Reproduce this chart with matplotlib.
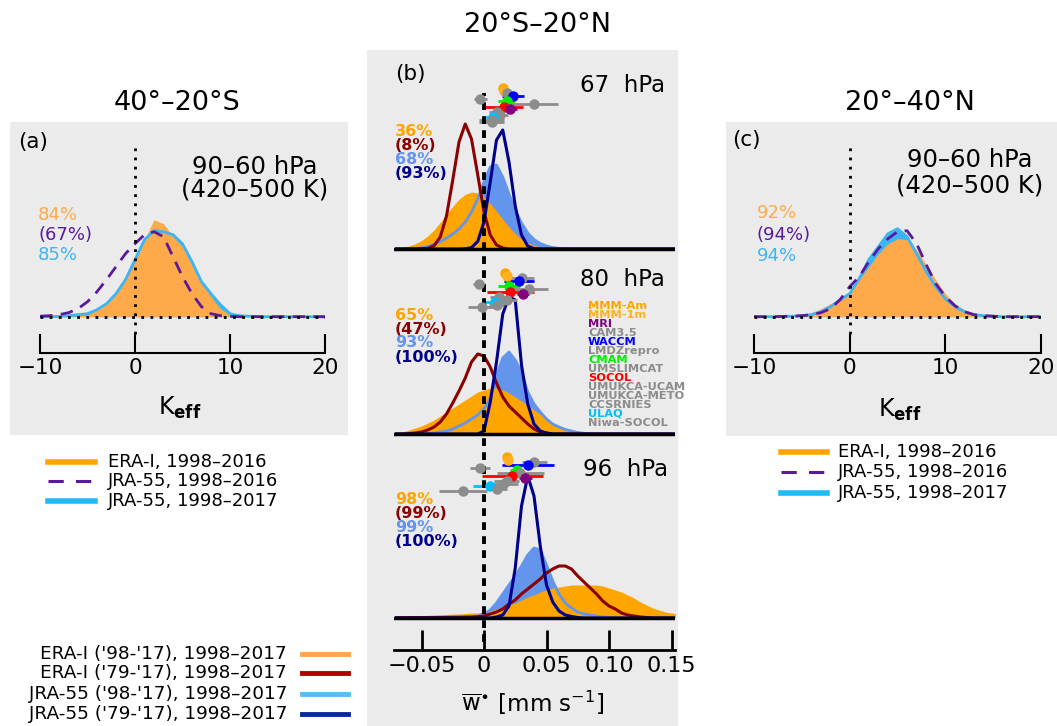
import matplotlib
matplotlib.use('Agg')
import matplotlib.pyplot as plt
import numpy as np
from matplotlib.lines import Line2D
from matplotlib.patches import Rectangle

W, H = 1057, 726
plt.rcParams['font.family'] = ['DejaVu Sans']
plt.rcParams['mathtext.fontset'] = 'dejavusans'

# ---- dados: paineis (a) e (c), Keff ----
keff = np.arange(-10, 21)

era_a = [0, 0, 0, 0.3, 1, 2, 7, 13, 23, 37, 55, 77, 97, 93, 80, 70, 52, 33, 20, 8, 2, 0.5,
         0, 0, 0, 0, 0, 0, 0, 0, 0]
jra16_a = [0.5, 1, 2, 4, 8, 15, 25, 37, 50, 63, 73, 82, 85, 80, 60, 40, 23, 10, 3, 1, 0.3,
           0, 0, 0, 0, 0, 0, 0, 0, 0, 0]
jra17_a = [0, 0, 0.3, 1, 2, 3, 7, 13, 23, 37, 57, 77, 86, 85, 82, 73, 55, 35, 23, 12, 3, 1, 0.5,
           0, 0, 0, 0, 0, 0, 0, 0]

era_c = [0, 0, 0, 0.5, 1, 2, 4, 8, 13, 18, 25, 37, 50, 63, 73, 78, 77, 67, 52, 37, 23, 13, 7, 3,
         1.5, 1, 0.5, 0, 0, 0, 0]
jra16_c = [0, 0, 0, 0.3, 0.5, 1, 2, 4, 8, 17, 30, 40, 55, 68, 78, 85, 86, 73, 52, 33, 20, 11, 5, 2,
           1, 0.5, 0, 0, 0, 0, 0]
jra17_c = [0, 0, 0, 0.3, 0.5, 1, 2, 5, 10, 17, 23, 38, 57, 70, 83, 88, 80, 63, 45, 30, 18, 10, 5, 2,
           1, 0.5, 0, 0, 0, 0, 0]

pct_a = ['84%', '(67%)', '85%']
pct_c = ['92%', '(94%)', '94%']

# ---- dados: painel (b), w* ----
w = np.linspace(-0.07, 0.155, 46)
niveis = ['67 hPa', '80 hPa', '96 hPa']

era98 = {
    '67 hPa': [0.9, 1.6, 3, 5.2, 8.5, 13, 19, 26.5, 34.6, 42.6, 49.7, 54.7, 57, 56, 52, 45.6, 37.9,
               29.7, 22, 15.4, 10, 6.3, 3.8, 2.1, 1.1, 0.5, 0.2] + [0] * 19,
    '80 hPa': [1, 2, 4, 6, 8, 11, 14, 18, 22, 26, 30, 34, 38, 42, 44, 46, 46, 44, 41, 37, 33, 29, 24,
               20, 15, 11, 8, 6, 4, 3, 2, 1, 0.5] + [0] * 13,
    '96 hPa': [1.5, 1.5, 2, 2, 2.5, 2.5, 3, 3, 3.5, 4, 4, 4.5, 5, 5, 6, 7, 9, 11, 13, 15, 18, 21, 23,
               26, 28, 30, 31, 32, 33, 33, 33, 33, 33, 32, 30, 28, 26, 23, 20, 16, 13, 10, 8, 6, 5, 4],
}
jra98 = {
    '67 hPa': [0, 0, 0.3, 0.6, 1.2, 2.5, 4.5, 7.5, 11, 15, 20, 27, 37, 50, 67, 82, 84, 72, 55, 39, 26,
               16, 9.5, 5.5, 3, 1.5, 0.6, 0.2] + [0] * 18,
    '80 hPa': [0, 0, 0, 0, 0, 0.5, 1, 2, 3, 5, 8, 11, 15, 19, 25, 36, 59, 76, 82, 74, 62, 42, 30, 22,
               15, 10, 7, 4.5, 3, 1.5, 0.7] + [0] * 15,
    '96 hPa': [0, 0, 0, 0, 0, 0, 0, 0, 0, 0.3, 0.5, 0.7, 1, 2, 4, 8, 15, 24, 33, 42, 52, 63, 70, 68,
               53, 37, 24, 15, 10, 6, 4, 3, 2, 1, 0.5] + [0] * 11,
}
era79 = {
    '67 hPa': [0, 0, 0, 0, 0.1, 0.7, 3.3, 12, 33, 69, 107, 125, 110, 74, 37, 14, 4, 1, 0.1] + [0] * 27,
    '80 hPa': [0, 0, 0.5, 1, 2, 4, 7, 12, 20, 31, 43, 56, 72, 80, 78, 67, 51, 37, 28, 22, 16, 10, 5,
               2, 1] + [0] * 21,
    '96 hPa': [0.3, 0.3, 0.4, 0.4, 0.5, 0.5, 0.5, 0.6, 0.6, 0.7, 0.8, 0.9, 1, 1.3, 2, 4, 6, 9, 14,
               18, 24, 29, 34, 39, 45, 49, 52, 52, 49, 42, 36, 30, 24, 17, 12, 9, 5, 3, 2, 1, 0.5,
               0, 0, 0, 0, 0],
}
jra79 = {
    '67 hPa': [0] * 11 + [0.2, 1.4, 7.6, 27, 67, 109, 119, 87, 43, 14, 3, 0.5] + [0] * 23,
    '80 hPa': [0] * 13 + [0, 3, 32, 72, 120, 137, 134, 69, 30, 10, 3, 1] + [0] * 21,
    '96 hPa': [0] * 16 + [1, 3, 12, 50, 112, 142, 122, 72, 33, 16, 7, 3, 1.5, 0.5] + [0] * 16,
}
pct_b = {
    '67 hPa': ['36%', '(8%)', '68%', '(93%)'],
    '80 hPa': ['65%', '(47%)', '93%', '(100%)'],
    '96 hPa': ['98%', '(99%)', '99%', '(100%)'],
}

# modelos (ordem da legenda) e cores
modelos = ['MMM-Am', 'MMM-1m', 'MRI', 'CAM3.5', 'WACCM', 'LMDZrepro', 'CMAM', 'UMSLIMCAT',
           'SOCOL', 'UMUKCA-UCAM', 'UMUKCA-METO', 'CCSRNIES', 'ULAQ', 'Niwa-SOCOL']
cinza = '#8C8C8C'
cores_mod = ['#FFA500', '#FFB020', '#800080', cinza, '#0000FF', cinza, '#00EE00', cinza,
             '#FF0000', cinza, cinza, cinza, '#00BFFF', cinza]
# ordem de cima para baixo dos pontos
ordem = ['MMM-Am', 'MMM-1m', 'CAM3.5', 'WACCM', 'LMDZrepro', 'CMAM', 'UMSLIMCAT', 'SOCOL',
         'MRI', 'UMUKCA-UCAM', 'UMUKCA-METO', 'ULAQ', 'CCSRNIES', 'Niwa-SOCOL']
# media e meia-barra de erro por nivel, na ordem de 'ordem'
w_mod = {
    '67 hPa': [0.015, 0.016, 0.018, 0.023, -0.003, 0.018, 0.040, 0.016, 0.021, 0.010, 0.013,
               0.007, 0.006, 0.006],
    '80 hPa': [0.017, 0.018, 0.030, 0.028, -0.004, 0.020, 0.036, 0.021, 0.031, 0.012, 0.018,
               0.009, 0.010, -0.002],
    '96 hPa': [0.018, 0.019, 0.040, 0.035, -0.003, 0.026, 0.029, 0.0225, 0.033, 0.018, 0.015,
               0.0045, 0.010, -0.017],
}
err_mod = {
    '67 hPa': [0.002, 0.002, 0.005, 0.009, 0.005, 0.007, 0.019, 0.015, 0.005, 0.006, 0.006,
               0.008, 0.010, 0.010],
    '80 hPa': [0.002, 0.002, 0.010, 0.012, 0.005, 0.009, 0.015, 0.019, 0.005, 0.007, 0.008,
               0.009, 0.006, 0.011],
    '96 hPa': [0.003, 0.003, 0.010, 0.021, 0.008, 0.005, 0.019, 0.0245, 0.005, 0.010, 0.012,
               0.0135, 0.008, 0.019],
}

# ---- cores ----
laranja = '#FFAA4A'
azul_claro = '#3DB5F5'
roxo = '#5A1A9E'
laranja_b = '#FFA500'
azul_b = '#6495ED'
verm_b = '#8B0000'
marinho = '#00008B'


def caixa(x0, y0, x1, y1):
    return [x0 / W, 1 - y1 / H, (x1 - x0) / W, (y1 - y0) / H]


fig = plt.figure(figsize=(W / 100, H / 100), dpi=100)


def texto(x, y, s, **kw):
    kw.setdefault('va', 'center')
    fig.text(x / W, 1 - y / H, s, **kw)


def linha_leg(x0, x1, y, **kw):
    fig.add_artist(Line2D([x0 / W, x1 / W], [1 - y / H, 1 - y / H],
                          transform=fig.transFigure, **kw))


# fundos cinza
for x0, y0, x1, y1 in [(10, 122, 348, 435), (367, 50, 678, 726), (726, 122, 1057, 436)]:
    fig.add_artist(Rectangle((x0 / W, 1 - y1 / H), (x1 - x0) / W, (y1 - y0) / H,
                             transform=fig.transFigure, color='#EBEBEB', lw=0, zorder=0))


def painel_keff(ax, era, jra16, jra17):
    ax.fill_between(keff, jra17, color=azul_claro, lw=0)
    ax.fill_between(keff, era, color=laranja, lw=0)
    ax.plot(keff, jra17, color=azul_claro, lw=2)
    ax.plot(keff, jra16, color=roxo, lw=2, dashes=(4.5, 3))
    ax.axhline(0, color='k', lw=2, dashes=(1, 2.3))
    ax.plot([0, 0], [-17, 175], color='k', lw=2, dashes=(1, 2.3))
    ax.set_xlim(-10, 20)
    ax.set_ylim(-36.3, 174.7)
    ax.set_xticks([-10, 0, 10, 20])
    ax.set_xticklabels(['−10', '0', '10', '20'])
    ax.set_yticks([])
    for s in ['left', 'right', 'top']:
        ax.spines[s].set_visible(False)
    ax.spines['bottom'].set_linewidth(1.5)
    ax.tick_params(axis='x', direction='in', length=14, width=1.5, labelsize=15.5, pad=3.5)
    ax.set_facecolor('none')


ax_a = fig.add_axes(caixa(40, 142, 325, 353))
painel_keff(ax_a, era_a, jra16_a, jra17_a)
ax_c = fig.add_axes(caixa(754, 142, 1041, 353))
painel_keff(ax_c, era_c, jra16_c, jra17_c)

# ---- painel (b) ----
ax_b = fig.add_axes(caixa(394, 55, 675, 650))
bases = {'67 hPa': 401, '80 hPa': 216, '96 hPa': 32}
for nv in niveis:
    b0 = bases[nv]
    ax_b.fill_between(w, b0, b0 + np.array(jra98[nv]), color=azul_b, lw=0)
    ax_b.fill_between(w, b0, b0 + np.array(era98[nv]), color=laranja_b, lw=0)
    ax_b.plot(w, b0 + np.array(jra98[nv]), color=azul_b, lw=2)
    ax_b.plot(w, b0 + np.array(era79[nv]), color=verm_b, lw=2.2)
    ax_b.plot(w, b0 + np.array(jra79[nv]), color=marinho, lw=2.2)
    ax_b.axhline(b0, color='k', lw=2.5)
    for i, nome in enumerate(ordem):
        cor = cores_mod[modelos.index(nome)]
        ax_b.errorbar(w_mod[nv][i], b0 + 161 - 2.65 * i, xerr=err_mod[nv][i], fmt='o',
                      color=cor, ms=6.5, elinewidth=2, capsize=0)
ax_b.plot([0, 0], [8, 557], color='k', lw=2.8, dashes=(2, 1.6))
ax_b.set_xlim(-0.072, 0.1528)
ax_b.set_ylim(0, 595)
ax_b.set_xticks([-0.05, 0, 0.05, 0.10, 0.15])
ax_b.set_xticklabels(['−0.05', '0', '0.05', '0.10', '0.15'])
ax_b.set_yticks([])
for s in ['left', 'right', 'top']:
    ax_b.spines[s].set_visible(False)
ax_b.spines['bottom'].set_linewidth(2)
ax_b.tick_params(axis='x', direction='in', length=14.4, width=2, labelsize=16, pad=4.5)
ax_b.set_facecolor('none')

# ---- textos ----
texto(177, 103, '40°–20°S', ha='center', size=19.5)
texto(538, 25, '20°S–20°N', ha='center', size=19.5)
texto(910, 103, '20°–40°N', ha='center', size=19.5)
texto(18, 142, '(a)', size=15.5)
texto(395, 74, '(b)', size=15.5)
texto(732, 140, '(c)', size=15.5)
for xc, y1, y2 in [(255, 167, 190), (970, 160, 186)]:
    texto(xc, y1, '90–60 hPa', ha='center', size=17.5)
    texto(xc, y2, '(420–500 K)', ha='center', size=17.5)
for xk, yk in [(180, 408), (900, 410)]:
    texto(xk, yk, r'K$_{\mathbf{eff}}$', ha='center', size=17)
for (x0, ys), pcts in zip([(38, [215, 235, 255]), (757, [213, 235, 256])], [pct_a, pct_c]):
    for y, s, cor in zip(ys, pcts, [laranja, roxo, azul_claro]):
        texto(x0, y, s, size=13, color=cor)

ys_pct = {'67 hPa': 131, '80 hPa': 315, '96 hPa': 499}
ys_nv = {'67 hPa': (665, 85), '80 hPa': (665, 280), '96 hPa': (668, 470)}
for nv in niveis:
    for k, (s, cor) in enumerate(zip(pct_b[nv], [laranja_b, verm_b, azul_b, marinho])):
        texto(395, ys_pct[nv] + 14 * k, s, size=11.5, weight='bold', color=cor)
    xn, yn = ys_nv[nv]
    texto(xn, yn, nv.replace(' ', '  '), ha='right', size=16.5)
for k, (nome, cor) in enumerate(zip(modelos, cores_mod)):
    texto(588, 306 + 9 * k, nome, size=8.2, weight='bold', color=cor)
texto(533, 703, r'$\overline{\mathrm{w}}^{\bullet}$ [mm s$^{-1}$]', ha='center', size=16.5)

# ---- legendas ----
nomes_leg = ['ERA-I, 1998–2016', 'JRA-55, 1998–2016', 'JRA-55, 1998–2017']
estilos = [dict(color='#FFA500', lw=4), dict(color=roxo, lw=2.2, dashes=(5, 4)),
           dict(color='#1EBBF5', lw=4)]
for x0, x1, xt, ys in [(48, 95, 108, [462, 481, 501]), (781, 827, 838, [452, 472, 493])]:
    for y, s, st in zip(ys, nomes_leg, estilos):
        linha_leg(x0, x1, y, **st)
        texto(xt, y, s, size=13)

nomes_leg2 = ["ERA-I ('98-'17), 1998–2017", "ERA-I ('79-'17), 1998–2017",
              "JRA-55 ('98-'17), 1998–2017", "JRA-55 ('79-'17), 1998–2017"]
cores_leg2 = ['#FFA54F', '#B00000', '#5BBAF7', '#0A2896']
for y, s, cor in zip([654, 673, 694, 714], nomes_leg2, cores_leg2):
    linha_leg(302, 348, y, color=cor, lw=3.5)
    texto(287, y, s, ha='right', size=13.3)

fig.savefig('out.png', dpi=100)
